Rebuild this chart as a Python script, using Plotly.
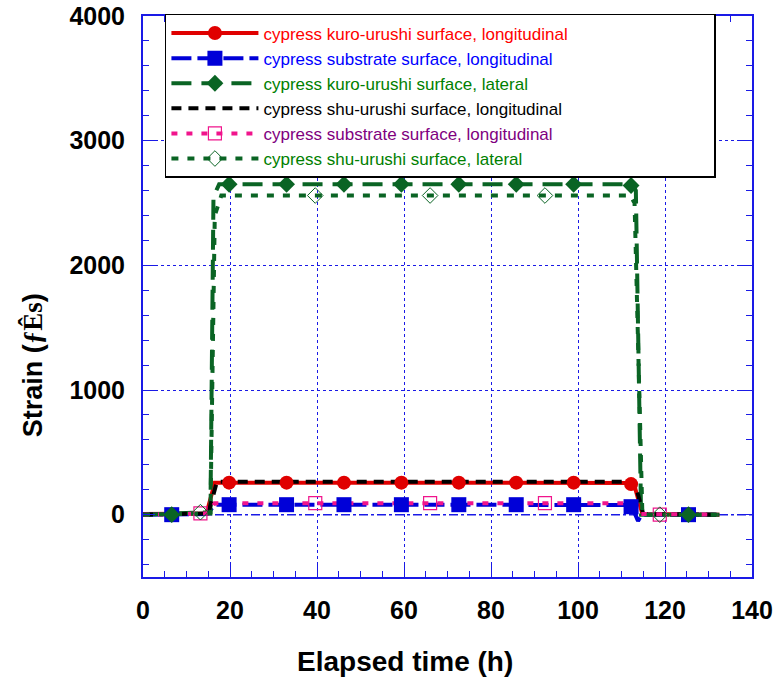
import plotly.graph_objects as go

# ---- data ----
# line paths (elapsed time h, strain)
t_kuro_long = [0, 14.6, 16.5, 112.8, 114.8, 132.5]
v_kuro_long = [5, 10, 257, 255, 5, 0]

t_kuro_sub = [0, 14.8, 16.5, 112.2, 113.8, 114.6, 126, 132.5]
v_kuro_sub = [0, 5, 80, 78, -50, 0, 0, 0]

t_kuro_lat = [0, 15.5, 16.2, 17.5, 112.5, 113.3, 114.5, 132.5]
v_kuro_lat = [0, 20, 2550, 2650, 2650, 2600, 0, 0]

t_shu_long = [0, 15.0, 17.0, 113.0, 115.0, 132.5]
v_shu_long = [0, 10, 265, 265, 5, 0]

t_shu_sub = [0, 15.0, 16.5, 112.5, 114.0, 132.0]
v_shu_sub = [0, 10, 92, 92, 5, 0]

t_shu_lat = [0, 15.5, 16.5, 18.0, 112.0, 113.0, 114.8, 132.0]
v_shu_lat = [0, 10, 2400, 2560, 2560, 2500, 0, 0]

# marker positions
mt_kuro = [6.6, 19.8, 33.0, 46.2, 59.4, 72.6, 85.8, 99.0, 112.2, 125.4]
mv_kuro_long = [0, 257, 257, 257, 257, 257, 257, 257, 245, 0]
mv_kuro_sub = [0, 80, 80, 80, 80, 80, 80, 80, 64, 0]
mv_kuro_lat = [0, 2650, 2650, 2650, 2650, 2650, 2650, 2650, 2640, 0]

mt_shu = [13.2, 39.6, 66.0, 92.4, 118.8]
mv_shu_sub = [10, 92, 92, 92, 0]
mv_shu_lat = [20, 2560, 2560, 2560, 0]

names = [
    ("cypress kuro-urushi surface, longitudinal", "#ff0000"),
    ("cypress substrate surface, longitudinal", "#0000ff"),
    ("cypress kuro-urushi surface, lateral", "#008000"),
    ("cypress shu-urushi surface, longitudinal", "#000000"),
    ("cypress substrate surface, longitudinal", "#800080"),
    ("cypress shu-urushi surface, lateral", "#008000"),
]

RED = "#e00000"
BLUE = "#0000d8"
DGREEN = "#0a6424"
PINK = "#f0148c"

series = [
    dict(t=t_kuro_long, v=v_kuro_long, mt=mt_kuro, mv=mv_kuro_long,
         line=dict(color=RED, width=4, dash="solid"),
         marker=dict(symbol="circle", size=14, color=RED)),
    dict(t=t_kuro_sub, v=v_kuro_sub, mt=mt_kuro, mv=mv_kuro_sub,
         line=dict(color=BLUE, width=4, dash="20px,6px"),
         marker=dict(symbol="square", size=15, color=BLUE)),
    dict(t=t_kuro_lat, v=v_kuro_lat, mt=mt_kuro, mv=mv_kuro_lat,
         line=dict(color=DGREEN, width=4, dash="20px,10px"),
         marker=dict(symbol="diamond", size=13, color=DGREEN)),
    dict(t=t_shu_long, v=v_shu_long, mt=None, mv=None,
         line=dict(color="#000000", width=4, dash="10px,7px"),
         marker=None),
    dict(t=t_shu_sub, v=v_shu_sub, mt=mt_shu, mv=mv_shu_sub,
         line=dict(color=PINK, width=4, dash="6px,9px"),
         marker=dict(symbol="square-open", size=13, color=PINK,
                     line=dict(width=1.2, color=PINK))),
    dict(t=t_shu_lat, v=v_shu_lat, mt=mt_shu, mv=mv_shu_lat,
         line=dict(color=DGREEN, width=4, dash="7px,9px"),
         marker=dict(symbol="diamond-open", size=12, color=DGREEN,
                     line=dict(width=1, color=DGREEN))),
]

fig = go.Figure()

# lines
for s in series:
    fig.add_trace(go.Scatter(x=s["t"], y=s["v"], mode="lines", line=s["line"],
                             showlegend=False, hoverinfo="skip"))
# markers on top
for s in series:
    if s["mt"] is not None:
        fig.add_trace(go.Scatter(x=s["mt"], y=s["mv"], mode="markers",
                                 marker=s["marker"], showlegend=False))
# legend entries
PAD = "&nbsp;" * 30
for s, (nm, col) in zip(series, names):
    label = f"<span style='color:{col}'>{nm}</span>{PAD}"
    if s["marker"] is not None:
        fig.add_trace(go.Scatter(x=[None], y=[None], mode="lines+markers",
                                 line=s["line"], marker=s["marker"], name=label))
    else:
        fig.add_trace(go.Scatter(x=[None], y=[None], mode="lines",
                                 line=s["line"], name=label))

AX = "#1a1ae6"
FONT = "Arial, 'Liberation Sans', sans-serif"
SERIF = "'Liberation Serif', 'DejaVu Serif', serif"

fig.update_layout(
    width=774, height=682,
    margin=dict(l=143, r=22, t=16, b=105, autoexpand=False),
    plot_bgcolor="white", paper_bgcolor="white",
    font=dict(family=FONT, color="black"),
    legend=dict(
        x=0.036, y=1.0036, xanchor="left", yanchor="top",
        bgcolor="white", bordercolor="black", borderwidth=1.5,
        font=dict(size=17, family=FONT),
        itemwidth=87, tracegroupgap=0,
    ),
    xaxis=dict(
        range=[0, 140], dtick=20, tick0=0,
        showline=True, linecolor=AX, linewidth=2, mirror="ticks",
        ticks="inside", ticklen=12, tickwidth=1.2, tickcolor=AX,
        minor=dict(dtick=5, ticks="inside", ticklen=6, tickwidth=1, tickcolor=AX, showgrid=False),
        showgrid=True, gridcolor=AX, griddash="dot", gridwidth=1.2,
        zeroline=False,
        tickfont=dict(size=25, family=FONT, weight="bold"),
        ticklabelstandoff=10,
    ),
    yaxis=dict(
        range=[-500, 4000], dtick=1000, tick0=0,
        showline=True, linecolor=AX, linewidth=2, mirror="ticks",
        ticks="inside", ticklen=12, tickwidth=1.2, tickcolor=AX,
        minor=dict(dtick=200, ticks="inside", ticklen=6, tickwidth=1, tickcolor=AX, showgrid=False),
        showgrid=True, gridcolor=AX, griddash="dot", gridwidth=1.2,
        zeroline=False,
        tickfont=dict(size=25, family=FONT, weight="bold"),
        ticklabelstandoff=11,
    ),
    shapes=[dict(type="line", xref="paper", x0=0, x1=1, yref="y", y0=0, y1=0,
                 line=dict(color=AX, width=1.5, dash="dashdot"), layer="below")],
    annotations=[
        dict(text="<b>Elapsed time (h)</b>", xref="paper", yref="paper",
             x=0.43, y=-0.15, xanchor="center", yanchor="middle", showarrow=False,
             font=dict(size=28, family=FONT, color="black")),
        dict(text=f"<b>Strain (<span style=\"font-family:{SERIF}\">ƒÊs</span>)</b>",
             xref="paper", yref="paper", x=-0.18, y=0.378, textangle=-90,
             xanchor="center", yanchor="middle", showarrow=False,
             font=dict(size=27, family=FONT, color="black")),
    ],
)

fig.write_html("out.html", config={"displayModeBar": False},
               post_script="document.body.style.margin='0';document.body.style.overflow='hidden';")
